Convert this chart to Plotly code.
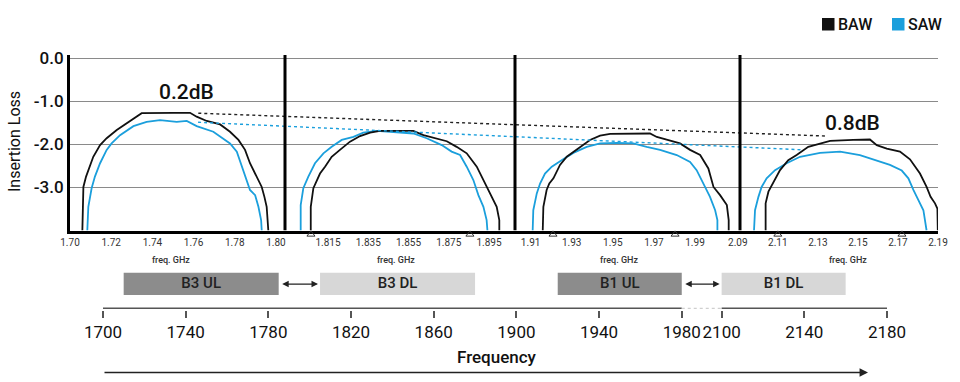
import plotly.graph_objects as go

W, H = 960, 382
FONT = "Roboto, DejaVu Sans, sans-serif"
BAW_COLOR = "#111111"
SAW_COLOR = "#1b9fdc"

# ---------------- top chart: four frequency windows (GHz) ----------------
panel_lo = [1.700, 1.7936, 1.9024, 2.0911]
panel_hi = [1.8044, 1.9079, 2.0119, 2.1900]
panel_w = [215, 230, 225, 198]

tick_vals_1 = [1.70, 1.72, 1.74, 1.76, 1.78, 1.80]
tick_text_1 = ["1.70", "1.72", "1.74", "1.76", "1.78", "1.80"]
tick_vals_2 = [1.815, 1.835, 1.855, 1.875, 1.895]
tick_text_2 = ["1.815", "1.835", "1.855", "1.875", "1.895"]
tick_vals_3 = [1.91, 1.93, 1.95, 1.97, 1.99]
tick_text_3 = ["1.91", "1.93", "1.95", "1.97", "1.99"]
tick_vals_4 = [2.09, 2.11, 2.13, 2.15, 2.17, 2.19]
tick_text_4 = ["2.09", "2.11", "2.13", "2.15", "2.17", "2.19"]

y_tick_vals = [0, -1, -2, -3]
y_tick_text = ["0.0", "-1.0", "-2.0", "-3.0"]
Y_MIN, Y_MAX = -4.0, 0.07

# B3 UL window
baw_f_1 = [1.7060, 1.7065, 1.7078, 1.7094, 1.7113, 1.7146, 1.7178, 1.7227, 1.7275, 1.7324,
           1.7348, 1.7502, 1.7583, 1.7615, 1.7664, 1.7729, 1.7777, 1.7818, 1.7850, 1.7874,
           1.7907, 1.7931, 1.7944, 1.7955, 1.7963]
baw_il_1 = [-4.0, -2.99, -2.75, -2.52, -2.29, -2.02, -1.86, -1.67, -1.52, -1.35,
            -1.28, -1.27, -1.27, -1.36, -1.46, -1.54, -1.71, -1.90, -2.13, -2.44,
            -2.75, -2.99, -3.22, -3.45, -4.0]
saw_f_1 = [1.7084, 1.7089, 1.7105, 1.7121, 1.7146, 1.7178, 1.7202, 1.7243, 1.7308, 1.7372,
           1.7437, 1.7518, 1.7567, 1.7615, 1.7696, 1.7777, 1.7810, 1.7834, 1.7858, 1.7874,
           1.7899, 1.7915, 1.7928, 1.7931]
saw_il_1 = [-4.0, -3.45, -3.02, -2.75, -2.44, -2.13, -1.98, -1.79, -1.58, -1.48,
            -1.44, -1.48, -1.46, -1.58, -1.71, -1.98, -2.17, -2.52, -2.83, -3.06,
            -3.18, -3.45, -3.76, -4.0]

# B3 DL window
baw_f_2 = [1.8064, 1.8064, 1.8077, 1.8110, 1.8135, 1.8168, 1.8209, 1.8259, 1.8309, 1.8359,
           1.8408, 1.8574, 1.8624, 1.8673, 1.8740, 1.8789, 1.8839, 1.8889, 1.8930, 1.8955,
           1.8988, 1.9001, 1.9001]
baw_il_2 = [-4.0, -3.45, -3.02, -2.68, -2.52, -2.29, -2.13, -1.94, -1.81, -1.73,
            -1.69, -1.69, -1.79, -1.85, -1.93, -2.06, -2.21, -2.52, -2.91, -3.14,
            -3.45, -3.76, -4.0]
saw_f_2 = [1.8014, 1.8014, 1.8027, 1.8052, 1.8085, 1.8127, 1.8168, 1.8218, 1.8276, 1.8325,
           1.8392, 1.8458, 1.8574, 1.8640, 1.8715, 1.8764, 1.8806, 1.8839, 1.8872, 1.8897,
           1.8922, 1.8938, 1.8942]
saw_il_2 = [-4.0, -3.41, -3.02, -2.75, -2.44, -2.21, -2.06, -1.90, -1.83, -1.73,
            -1.69, -1.71, -1.75, -1.86, -2.02, -2.17, -2.25, -2.52, -2.83, -3.18,
            -3.45, -3.76, -4.0]

# B1 UL window
baw_f_3 = [1.9159, 1.9162, 1.9178, 1.9191, 1.9211, 1.9243, 1.9276, 1.9332, 1.9389, 1.9438,
           1.9487, 1.9681, 1.9714, 1.9762, 1.9827, 1.9876, 1.9925, 1.9965, 1.9990, 2.0022,
           2.0055, 2.0064, 2.0064]
baw_il_3 = [-4.0, -3.45, -3.06, -2.91, -2.79, -2.48, -2.29, -2.10, -1.90, -1.80,
            -1.76, -1.75, -1.83, -1.89, -1.98, -2.13, -2.25, -2.56, -2.99, -3.18,
            -3.41, -3.76, -4.0]
saw_f_3 = [1.9110, 1.9113, 1.9130, 1.9146, 1.9170, 1.9203, 1.9251, 1.9308, 1.9373, 1.9438,
           1.9519, 1.9600, 1.9665, 1.9730, 1.9811, 1.9876, 1.9908, 1.9941, 1.9973, 1.9998,
           2.0009, 2.0009]
saw_il_3 = [-4.0, -3.53, -3.14, -2.91, -2.68, -2.52, -2.37, -2.20, -2.06, -1.98,
            -1.97, -1.98, -2.06, -2.13, -2.25, -2.41, -2.60, -2.91, -3.22, -3.53,
            -3.76, -4.0]

# B1 DL window
baw_f_4 = [2.1039, 2.1039, 2.1053, 2.1078, 2.1111, 2.1152, 2.1194, 2.1252, 2.1311, 2.1361,
           2.1477, 2.1560, 2.1594, 2.1644, 2.1710, 2.1760, 2.1810, 2.1843, 2.1863, 2.1885,
           2.1897, 2.1899]
baw_il_4 = [-4.0, -3.37, -3.10, -2.87, -2.60, -2.37, -2.25, -2.06, -1.98, -1.92,
            -1.90, -1.89, -2.02, -2.10, -2.17, -2.35, -2.68, -2.99, -3.22, -3.37,
            -3.49, -4.0]
saw_f_4 = [2.0981, 2.0986, 2.1003, 2.1019, 2.1044, 2.1086, 2.1144, 2.1211, 2.1311, 2.1411,
           2.1510, 2.1594, 2.1660, 2.1719, 2.1752, 2.1777, 2.1802, 2.1827, 2.1843]
saw_il_4 = [-4.0, -3.53, -3.22, -2.99, -2.79, -2.60, -2.44, -2.29, -2.20, -2.17,
            -2.25, -2.37, -2.48, -2.61, -2.79, -3.06, -3.29, -3.53, -4.0]

baw_f = [baw_f_1, baw_f_2, baw_f_3, baw_f_4]
baw_il = [baw_il_1, baw_il_2, baw_il_3, baw_il_4]
saw_f = [saw_f_1, saw_f_2, saw_f_3, saw_f_4]
saw_il = [saw_il_1, saw_il_2, saw_il_3, saw_il_4]

# band-edge markers (panel index, GHz)
marker_panel = [1, 1, 2, 2, 3, 3]
marker_f = [1.8065, 1.8855, 1.9209, 1.9803, 2.1100, 2.1720]

# axis caption under each window (panel index, GHz at caption centre)
caption_panel = [0, 1, 2, 3]
caption_f = [1.7490, 1.8487, 1.9530, 2.1450]
caption_text = ["freq. GHz"] * 4

# trend lines: (panel, GHz, loss) start -> end
trend_baw_panel = [0, 3]
trend_baw_f = [1.7623, 2.1344]
trend_baw_il = [-1.28, -1.81]
trend_saw_panel = [0, 3]
trend_saw_f = [1.7622, 2.1227]
trend_saw_il = [-1.49, -2.13]

delta_labels = ["0.2dB", "0.8dB"]
delta_panel = [0, 3]
delta_f = [1.7567, 2.1475]
delta_il = [-0.78, -1.51]

# ---------------- bottom band plan (MHz) ----------------
band_names = ["B3 UL", "B3 DL", "B1 UL", "B1 DL"]
band_start = [1710, 1805, 1920, 2100]
band_end = [1785, 1880, 1980, 2160]
band_colors = ["#8c8c8c", "#d7d7d7", "#8c8c8c", "#d7d7d7"]
duplex_from = [1785, 1980]
duplex_to = [1805, 2100]
freq_ticks = [1700, 1740, 1780, 1820, 1860, 1900, 1940, 1980, 2100, 2140, 2180]
freq_tick_text = [str(v) for v in freq_ticks]

legend_names = ["BAW", "SAW"]
legend_colors = [BAW_COLOR, SAW_COLOR]

# ---------------- scales ----------------
offs = [sum(panel_w[:i]) for i in range(4)]
TOTAL_W = sum(panel_w)


def warp(p, f):
    return offs[p] + (f - panel_lo[p]) / (panel_hi[p] - panel_lo[p]) * panel_w[p]


BREAK_LO, BREAK_HI, GAP = 1980, 2100, 19.3


def warp2(f):
    if f <= BREAK_LO:
        return f - 1700
    return f - BREAK_HI + (BREAK_LO - 1700) + GAP


# main plot area in pixels
TOP_PX, BOT_PX = 55, 230.5
PX_PER_DB = (BOT_PX - TOP_PX) / (Y_MAX - Y_MIN)
EXT_BOT_PX = 266  # extended (invisible) y axis for captions / edge markers
Y3_MIN = Y_MAX - (EXT_BOT_PX - TOP_PX) / PX_PER_DB

MED = 500
fig = go.Figure()

for p in range(4):
    fig.add_trace(go.Scatter(
        x=[warp(p, f) for f in saw_f[p]], y=saw_il[p], mode="lines",
        line=dict(color=SAW_COLOR, width=1.8), showlegend=False, hoverinfo="skip"))
    fig.add_trace(go.Scatter(
        x=[warp(p, f) for f in baw_f[p]], y=baw_il[p], mode="lines",
        line=dict(color=BAW_COLOR, width=1.8), showlegend=False, hoverinfo="skip"))

fig.add_trace(go.Scatter(
    x=[warp(p, f) for p, f in zip(trend_baw_panel, trend_baw_f)], y=trend_baw_il,
    mode="lines", line=dict(color="#222", width=1.4, dash="dot"),
    showlegend=False, hoverinfo="skip"))
fig.add_trace(go.Scatter(
    x=[warp(p, f) for p, f in zip(trend_saw_panel, trend_saw_f)], y=trend_saw_il,
    mode="lines", line=dict(color=SAW_COLOR, width=1.4, dash="dot"),
    showlegend=False, hoverinfo="skip"))

fig.add_trace(go.Scatter(
    x=[warp(p, f) for p, f in zip(marker_panel, marker_f)], y=[-4.09] * len(marker_f),
    xaxis="x", yaxis="y3",
    mode="markers", marker=dict(symbol="triangle-up-open", size=7, color="#333",
                                line=dict(width=1)),
    cliponaxis=False, showlegend=False, hoverinfo="skip"))

fig.add_trace(go.Scatter(
    x=[warp(p, f) for p, f in zip(caption_panel, caption_f)], y=[-4.69] * 4,
    xaxis="x", yaxis="y3",
    mode="text", text=caption_text, textposition="middle center",
    textfont=dict(family=FONT, size=9, color="#333", weight=MED),
    cliponaxis=False, showlegend=False, hoverinfo="skip"))

# band boxes' labels
fig.add_trace(go.Scatter(
    x=[(warp2(s) + warp2(e)) / 2 for s, e in zip(band_start, band_end)],
    y=[0.6075] * len(band_names), xaxis="x2", yaxis="y2",
    mode="text", text=band_names, textposition="middle center",
    textfont=dict(family=FONT, size=15, color="#222", weight=MED),
    cliponaxis=False, showlegend=False, hoverinfo="skip"))

# bottom axis line (solid segments + dotted break)
fig.add_trace(go.Scatter(
    x=[warp2(1700), warp2(BREAK_LO), None, warp2(BREAK_HI), warp2(freq_ticks[-1])],
    y=[0, 0, None, 0, 0], mode="lines", line=dict(color="#555", width=1.5),
    xaxis="x2", yaxis="y2", showlegend=False, hoverinfo="skip"))
fig.add_trace(go.Scatter(
    x=[warp2(BREAK_LO), warp2(BREAK_HI)], y=[0, 0], mode="lines",
    line=dict(color="#cfcfcf", width=1.3, dash="dot"),
    xaxis="x2", yaxis="y2", showlegend=False, hoverinfo="skip"))

top_tick_vals = ([warp(0, v) for v in tick_vals_1] + [warp(1, v) for v in tick_vals_2]
                 + [warp(2, v) for v in tick_vals_3] + [warp(3, v) for v in tick_vals_4])
top_tick_text = tick_text_1 + tick_text_2 + tick_text_3 + tick_text_4

shapes = []
for p in range(1, 4):
    shapes.append(dict(type="line", xref="x", yref="y", x0=offs[p], x1=offs[p],
                       y0=Y_MIN, y1=Y_MAX, line=dict(color="black", width=3)))
for s, e, c in zip(band_start, band_end, band_colors):
    shapes.append(dict(type="rect", xref="x2", yref="y2", x0=warp2(s), x1=warp2(e),
                       y0=0.33, y1=0.885, fillcolor=c, line=dict(width=0), layer="below"))

annotations = []


def note(**kw):
    kw.setdefault("xanchor", "center")
    kw.setdefault("yanchor", "middle")
    kw.setdefault("showarrow", False)
    annotations.append(kw)


# legend: coloured squares + names
leg_x = [822, 892]
for lx, name, col in zip(leg_x, legend_names, legend_colors):
    shapes.append(dict(type="rect", xref="paper", yref="paper",
                       x0=lx / W, x1=(lx + 12.5) / W, y0=1 - 30.5 / H, y1=1 - 18 / H,
                       fillcolor=col, line=dict(width=0)))
    note(xref="paper", yref="paper", x=(lx + 13.5) / W, y=1 - 24.5 / H,
         xanchor="left", text=name,
         font=dict(family=FONT, size=16, color="#111", weight=MED))

for a, b in zip(duplex_from, duplex_to):
    annotations.append(dict(xref="x2", yref="y2", axref="x2", ayref="y2",
                            x=warp2(b), y=0.6, ax=warp2(a), ay=0.6, text="",
                            showarrow=True, arrowside="end+start", arrowhead=2,
                            arrowsize=1, arrowwidth=1.3, arrowcolor="#222",
                            standoff=2, startstandoff=2))
for t, p, f, v in zip(delta_labels, delta_panel, delta_f, delta_il):
    note(xref="x", yref="y", x=warp(p, f), y=v, text=t,
         font=dict(family=FONT, size=21, color="#111", weight=MED))
note(xref="paper", yref="paper", x=14 / W, y=1 - 142 / H, text="Insertion Loss",
     textangle=-90, font=dict(family=FONT, size=16, color="#111"))
note(xref="paper", yref="paper", x=497 / W, y=1 - 357 / H, text="Frequency",
     font=dict(family=FONT, size=17, color="#111", weight=MED))
annotations.append(dict(xref="paper", yref="paper", x=868 / W, y=1 - 372.5 / H,
                        ax=-765, ay=0, text="", showarrow=True, arrowhead=2,
                        arrowsize=1.3, arrowwidth=1.3, arrowcolor="#222"))

fig.update_layout(
    width=W, height=H, margin=dict(l=0, r=0, t=0, b=0, autoexpand=False),
    paper_bgcolor="white", plot_bgcolor="rgba(0,0,0,0)", showlegend=False,
    font=dict(family=FONT, color="#111"),
    xaxis=dict(domain=[70 / W, 938 / W], range=[0, TOTAL_W], anchor="y",
               automargin=False, tickangle=0,
               showgrid=False, zeroline=False, showline=True, linecolor="black",
               linewidth=3, tickvals=top_tick_vals, ticktext=top_tick_text,
               ticks="", tickfont=dict(family=FONT, size=10, color="#333")),
    yaxis=dict(domain=[1 - BOT_PX / H, 1 - TOP_PX / H], range=[Y_MIN, Y_MAX], anchor="x",
               automargin=False,
               tickvals=y_tick_vals, ticktext=y_tick_text, showgrid=True,
               gridcolor="#8a8a8a", gridwidth=1.2, zeroline=False, showline=True,
               linecolor="black", linewidth=3, ticks="",
               tickfont=dict(family=FONT, size=17, color="#111", weight=MED)),
    yaxis3=dict(domain=[1 - EXT_BOT_PX / H, 1 - TOP_PX / H], range=[Y3_MIN, Y_MAX],
                anchor="x", automargin=False, visible=False, showgrid=False,
                zeroline=False),
    xaxis2=dict(domain=[103 / W, 887 / W], range=[0, warp2(freq_ticks[-1])], anchor="y2",
                automargin=False, tickangle=0,
                showgrid=False, zeroline=False, showline=False,
                tickvals=[warp2(v) for v in freq_ticks], ticktext=freq_tick_text,
                ticks="outside", ticklen=7, tickwidth=1.5, tickcolor="#555",
                tickfont=dict(family=FONT, size=17, color="#111")),
    yaxis2=dict(domain=[1 - 309.5 / H, 1 - 268 / H], range=[-0.03, 1], anchor="x2",
                automargin=False, visible=False),
    shapes=shapes, annotations=annotations,
)

fig.write_html("out.html", config={"displayModeBar": False},
               post_script="document.body.style.margin='0';")
